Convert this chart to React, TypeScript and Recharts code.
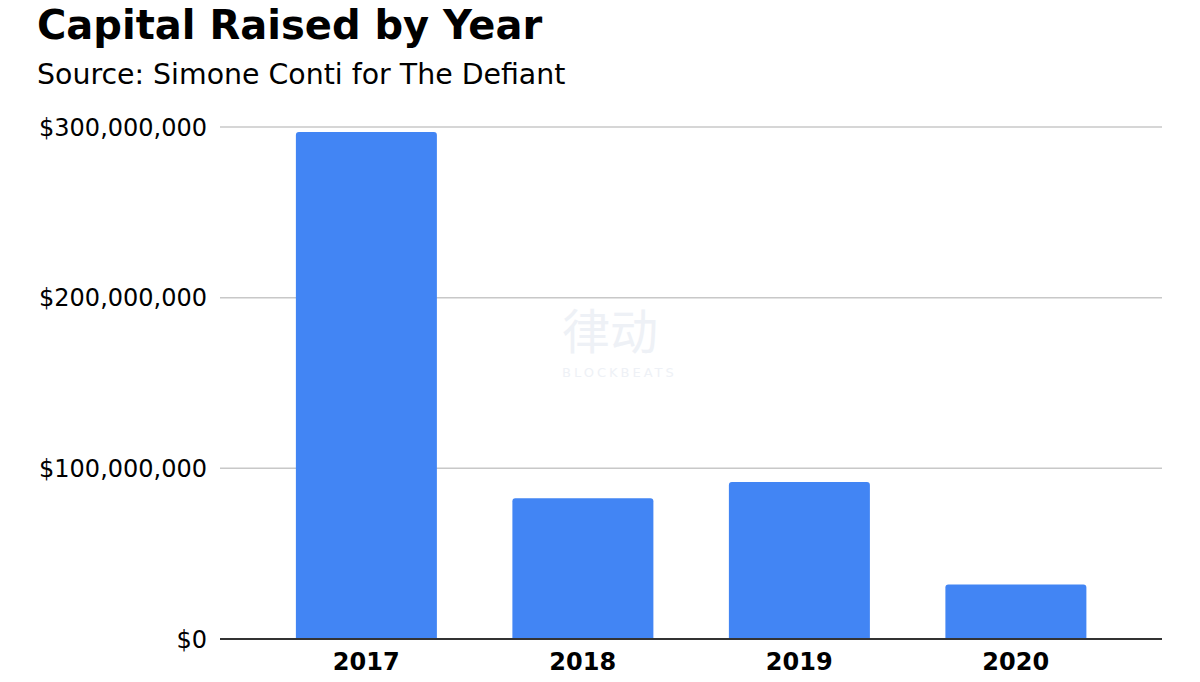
import React from 'react';
import { BarChart, Bar, XAxis, YAxis, CartesianGrid, ReferenceLine } from 'recharts';

const years = ['2017', '2018', '2019', '2020'];
const capitalRaised = [297000000, 82500000, 92000000, 32000000];
const yTicks = [0, 100000000, 200000000, 300000000];

const data = years.map((year, i) => ({ year, capital: capitalRaised[i] }));

const font = '"DejaVu Sans", Verdana, sans-serif';

const formatDollars = (v: number) => '$' + v.toLocaleString('en-US');

const App: React.FC = () => {
  return (
    <div
      style={{
        position: 'absolute',
        top: 0,
        left: 0,
        width: 1200,
        height: 682,
        background: '#fff',
        fontFamily: font
      }}
    >
      <div
        style={{
          position: 'absolute',
          left: 37,
          top: 2,
          fontSize: 40,
          fontWeight: 'bold',
          color: '#000',
          whiteSpace: 'nowrap'
        }}
      >
        Capital Raised by Year
      </div>
      <div
        style={{
          position: 'absolute',
          left: 37,
          top: 58,
          fontSize: 28.4,
          color: '#000',
          whiteSpace: 'nowrap'
        }}
      >
        Source: Simone Conti for The Defiant
      </div>
      {/* faint watermark */}
      <div
        style={{
          position: 'absolute',
          left: 562,
          top: 304,
          fontSize: 48,
          lineHeight: 1,
          color: '#eef1f6',
          fontFamily: '"Noto Sans CJK SC", sans-serif',
          whiteSpace: 'nowrap'
        }}
      >
        律动
      </div>
      <div
        style={{
          position: 'absolute',
          left: 562,
          top: 366,
          fontSize: 13,
          lineHeight: 1,
          letterSpacing: 3,
          color: '#eef1f6',
          whiteSpace: 'nowrap'
        }}
      >
        BLOCKBEATS
      </div>
      <BarChart
        width={1200}
        height={682}
        data={data}
        margin={{ top: 127, right: 38, bottom: 0, left: 0 }}
        barCategoryGap="17.5%"
        style={{ position: 'absolute', top: 0, left: 0 }}
      >
        <CartesianGrid vertical={false} stroke="#c8c8c8" strokeWidth={1.5} />
        <XAxis
          dataKey="year"
          height={43}
          padding={{ left: 38, right: 38 }}
          axisLine={false}
          tickLine={false}
          tickMargin={8}
          tick={{ fontSize: 24, fontWeight: 'bold', fill: '#000', fontFamily: font }}
        />
        <YAxis
          width={220}
          domain={[0, 300000000]}
          ticks={yTicks}
          tickFormatter={formatDollars}
          axisLine={false}
          tickLine={false}
          tickMargin={7}
          tick={{ fontSize: 24, fill: '#000', fontFamily: font }}
        />
        <Bar
          dataKey="capital"
          fill="#4285f4"
          radius={[3, 3, 0, 0]}
          isAnimationActive={false}
        />
        <ReferenceLine y={0} stroke="#333" strokeWidth={2} />
      </BarChart>
    </div>
  );
};

export default App;
